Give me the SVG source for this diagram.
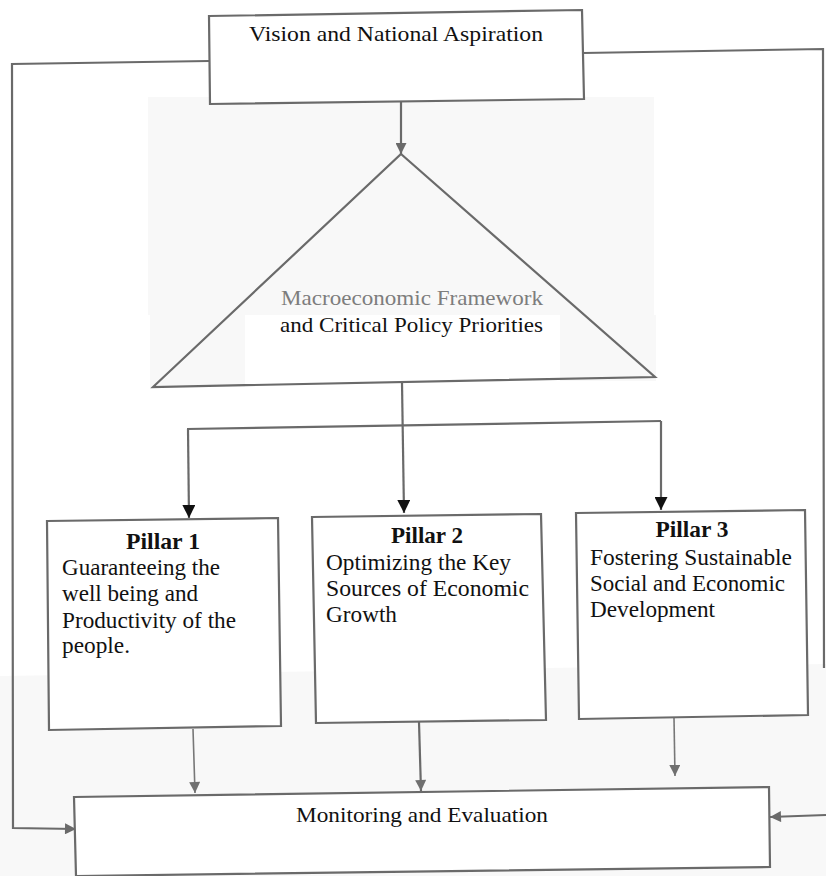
<svg xmlns="http://www.w3.org/2000/svg" width="826" height="876" viewBox="0 0 826 876">
  <defs>
    <style>
      .box { fill: #ffffff; stroke: #6a6a6a; stroke-width: 2.2; }
      .wire { fill: none; stroke: #6a6a6a; stroke-width: 2.2; }
      .thin { fill: none; stroke: #777777; stroke-width: 1.6; }
      .txt { font-family: "Liberation Serif", "Times New Roman", serif; fill: #111111; }
      .head { font-weight: bold; font-size: 24px; text-anchor: middle; }
      .body { font-size: 23px; }
      .grey { fill: #7d7d7d; }
    </style>
    <marker id="tipGrey" viewBox="0 0 10 10" refX="10" refY="5" markerWidth="12" markerHeight="11" markerUnits="userSpaceOnUse" orient="auto">
      <path d="M0,0 L10,5 L0,10 Z" fill="#6a6a6a"/>
    </marker>
    <marker id="tipBlack" viewBox="0 0 10 10" refX="10" refY="5" markerWidth="14" markerHeight="13" markerUnits="userSpaceOnUse" orient="auto">
      <path d="M0,0 L10,5 L0,10 Z" fill="#111111"/>
    </marker>
    <marker id="tipSoft" viewBox="0 0 10 10" refX="10" refY="5" markerWidth="13" markerHeight="11" markerUnits="userSpaceOnUse" orient="auto">
      <path d="M0,0 L10,5 L0,10 Z" fill="#707070"/>
    </marker>
  </defs>

  <!-- paper -->
  <rect width="826" height="876" fill="#ffffff"/>
  <rect x="148" y="97" width="506" height="218" fill="#f8f8f8"/>
  <rect x="150" y="315" width="95" height="72" fill="#f8f8f8"/>
  <rect x="560" y="315" width="96" height="66" fill="#f8f8f8"/>
  <polygon points="0,676 826,664 826,876 0,876" fill="#f8f8f8"/>

  <!-- connectors -->
  <g id="connectors">
    <!-- vision to framework -->
    <path class="wire" d="M401,101 L401,154" marker-end="url(#tipGrey)"/>
    <!-- outer feedback loops -->
    <path class="wire" d="M209,61 L12,64 L13,828 L76,829" marker-end="url(#tipGrey)"/>
    <path class="wire" d="M583,53 L823,49 L824,668"/>
    <path class="wire" d="M826,815 L770,817" marker-end="url(#tipGrey)"/>
    <!-- framework to pillars -->
    <path class="wire" d="M402,383 L404,513" marker-end="url(#tipBlack)"/>
    <path class="wire" d="M187,429 L661,421"/>
    <path class="wire" d="M188,429 L189,518" marker-end="url(#tipBlack)"/>
    <path class="wire" d="M661,421 L661,510" marker-end="url(#tipBlack)"/>
    <!-- pillars to monitoring -->
    <path class="thin" d="M193,729 L195,793" marker-end="url(#tipSoft)"/>
    <path class="wire" d="M419,722 L421,791" marker-end="url(#tipSoft)"/>
    <path class="thin" d="M674,718 L675,776" marker-end="url(#tipSoft)"/>
  </g>

  <!-- top node -->
  <g id="vision">
    <polygon class="box" points="209,16 582,10 584,99 210,104"/>
    <text class="txt" x="249" y="41" font-size="21" textLength="294" lengthAdjust="spacingAndGlyphs">Vision and National Aspiration</text>
  </g>

  <!-- framework triangle -->
  <g id="framework">
    <polygon fill="none" stroke="#6a6a6a" stroke-width="2.2" points="401,154 655,377 153,387"/>
    <text class="txt grey" x="281" y="305" font-size="22" textLength="262" lengthAdjust="spacingAndGlyphs">Macroeconomic Framework</text>
    <text class="txt" x="280" y="332" font-size="22" textLength="263" lengthAdjust="spacingAndGlyphs">and Critical Policy Priorities</text>
  </g>

  <!-- pillar 1 -->
  <g id="pillar1">
    <polygon class="box" points="47,521 278,518 281,726 49,730"/>
    <text class="txt head" x="163" y="549" textLength="74" lengthAdjust="spacingAndGlyphs">Pillar 1</text>
    <text class="txt body" x="62" y="575" textLength="158" lengthAdjust="spacingAndGlyphs">Guaranteeing the</text>
    <text class="txt body" x="62" y="601" textLength="136" lengthAdjust="spacingAndGlyphs">well being and</text>
    <text class="txt body" x="62" y="628" textLength="174" lengthAdjust="spacingAndGlyphs">Productivity of the</text>
    <text class="txt body" x="62" y="653" textLength="68" lengthAdjust="spacingAndGlyphs">people.</text>
  </g>

  <!-- pillar 2 -->
  <g id="pillar2">
    <polygon class="box" points="312,517 541,514 546,720 316,723"/>
    <text class="txt head" x="427" y="543" textLength="72" lengthAdjust="spacingAndGlyphs">Pillar 2</text>
    <text class="txt body" x="326" y="570" textLength="185" lengthAdjust="spacingAndGlyphs">Optimizing the Key</text>
    <text class="txt body" x="326" y="596" textLength="203" lengthAdjust="spacingAndGlyphs">Sources of Economic</text>
    <text class="txt body" x="326" y="622" textLength="71" lengthAdjust="spacingAndGlyphs">Growth</text>
  </g>

  <!-- pillar 3 -->
  <g id="pillar3">
    <polygon class="box" points="576,513 805,510 808,715 579,719"/>
    <text class="txt head" x="692" y="537" textLength="73" lengthAdjust="spacingAndGlyphs">Pillar 3</text>
    <text class="txt body" x="590" y="565" textLength="202" lengthAdjust="spacingAndGlyphs">Fostering Sustainable</text>
    <text class="txt body" x="590" y="591" textLength="195" lengthAdjust="spacingAndGlyphs">Social and Economic</text>
    <text class="txt body" x="590" y="617" textLength="125" lengthAdjust="spacingAndGlyphs">Development</text>
  </g>

  <!-- bottom node -->
  <g id="monitoring">
    <polygon class="box" points="74,797 769,787 770,867 76,876"/>
    <text class="txt" x="296" y="822" font-size="21" textLength="252" lengthAdjust="spacingAndGlyphs">Monitoring and Evaluation</text>
  </g>
</svg>
